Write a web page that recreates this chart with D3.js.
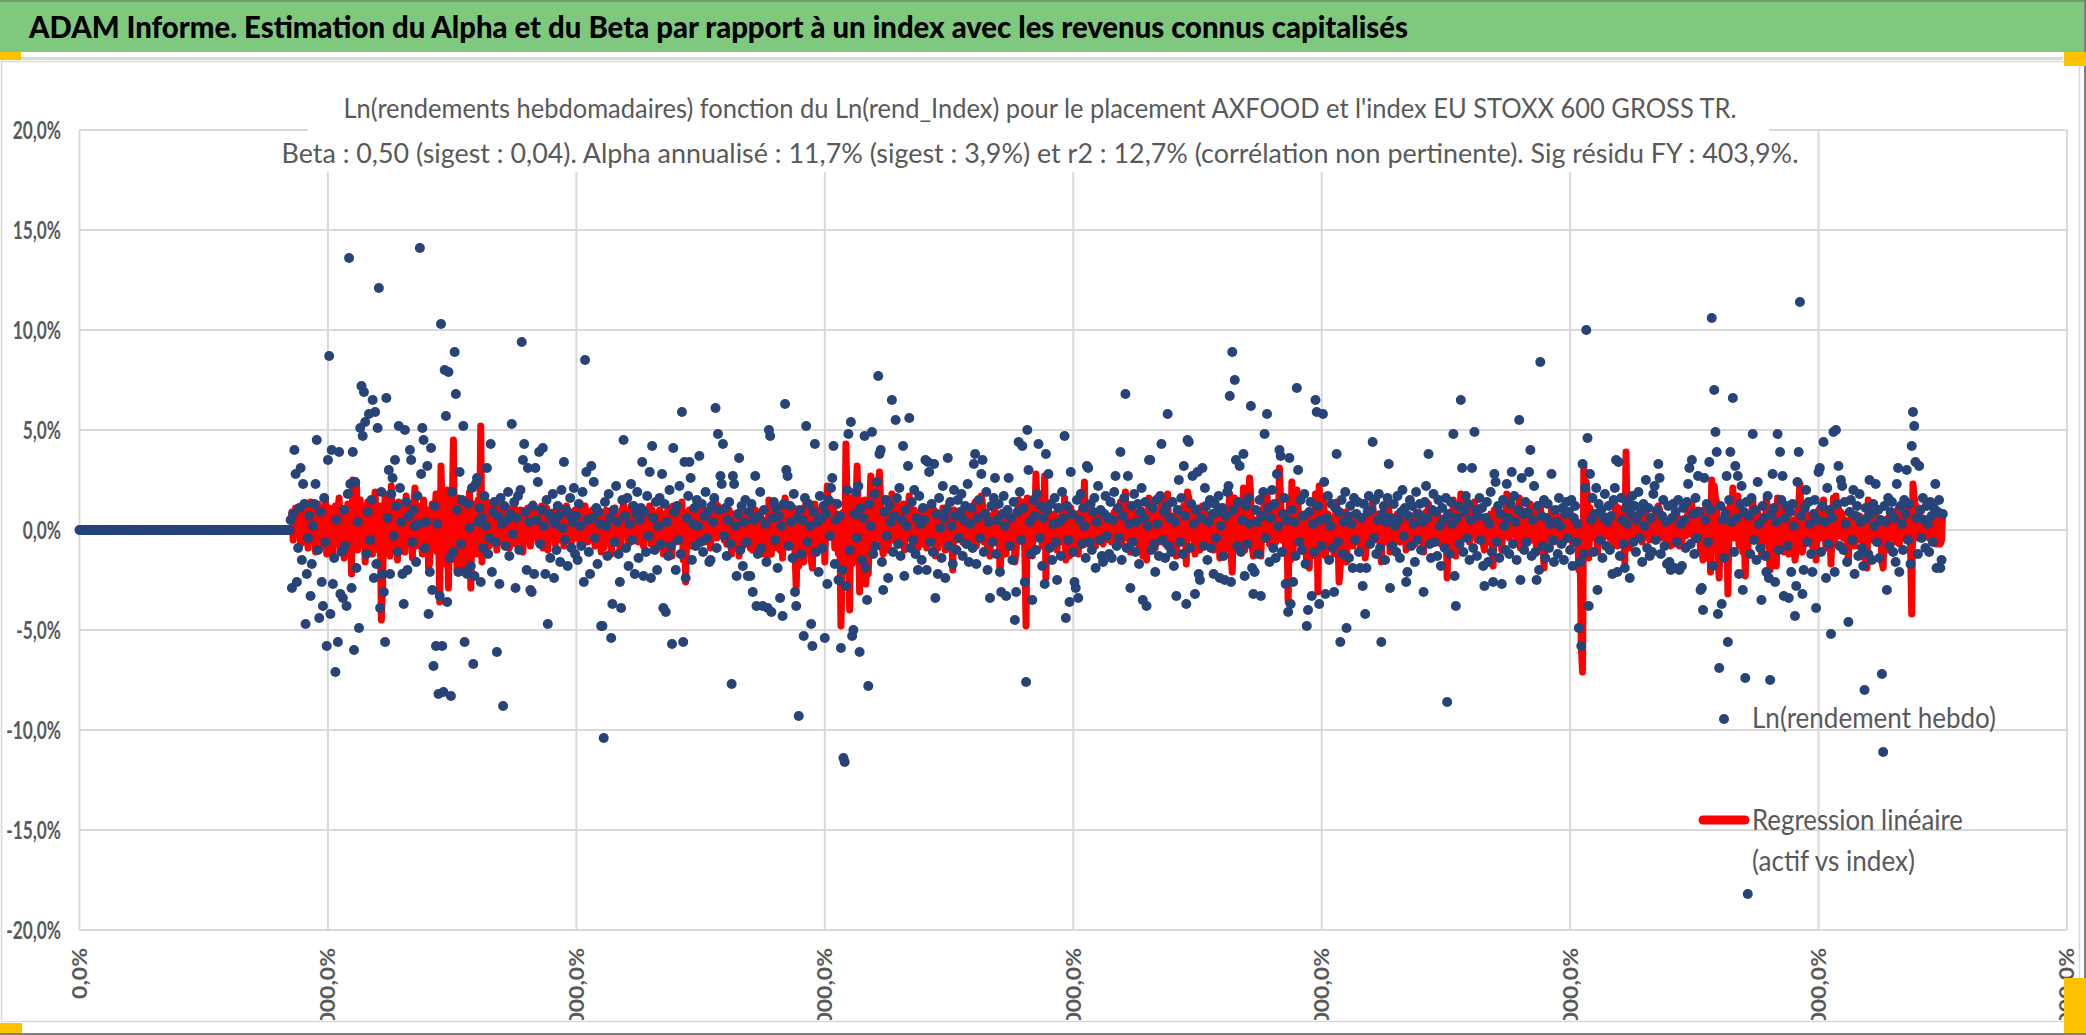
<!DOCTYPE html>
<html>
<head>
<meta charset="utf-8">
<script src="https://cdn.jsdelivr.net/npm/d3@7"></script>
<style>
  body { margin: 0; background: #fff; }
  svg { display: block; font-family: Lato, "Open Sans", sans-serif; }
</style>
</head>
<body>
<div id="chart"></div>
<script>
// ---------------------------------------------
// Texts and axes
// ---------------------------------------------
const titleText = "ADAM Informe. Estimation du Alpha et du Beta par rapport à un index avec les revenus connus capitalisés";
const subtitleLines = [
    "Ln(rendements hebdomadaires) fonction du Ln(rend_Index) pour le placement AXFOOD et l'index EU STOXX 600 GROSS TR.",
    "Beta : 0,50 (sigest : 0,04). Alpha annualisé : 11,7% (sigest : 3,9%) et r2 : 12,7% (corrélation non pertinente). Sig résidu FY : 403,9%."
];
const legendLabels = ["Ln(rendement hebdo)", "Regression linéaire", "(actif vs index)"];
const yTicks = [-20, -15, -10, -5, 0, 5, 10, 15, 20];
const xTicks = [0, 200, 400, 600, 800, 1000, 1200, 1400, 1600];

// ---------------------------------------------
// Data: weekly values in %, x = week number
// ---------------------------------------------
// weeks 0-169 : no return available (plotted as 0)
const zeroWeeks = [
    0,0,0,0,0,0,0,0,0,0,0,0,0,0,0,0,0,
    0,0,0,0,0,0,0,0,0,0,0,0,0,0,0,0,0,
    0,0,0,0,0,0,0,0,0,0,0,0,0,0,0,0,0,
    0,0,0,0,0,0,0,0,0,0,0,0,0,0,0,0,0,
    0,0,0,0,0,0,0,0,0,0,0,0,0,0,0,0,0,
    0,0,0,0,0,0,0,0,0,0,0,0,0,0,0,0,0,
    0,0,0,0,0,0,0,0,0,0,0,0,0,0,0,0,0,
    0,0,0,0,0,0,0,0,0,0,0,0,0,0,0,0,0,
    0,0,0,0,0,0,0,0,0,0,0,0,0,0,0,0,0,
    0,0,0,0,0,0,0,0,0,0,0,0,0,0,0,0,0
];
const firstWeek = 170;

// Ln(rendement hebdo), weeks 170-399
const hebdoA = [
    0.5, -2.9, 0.8, 4.0, 2.8, -2.6, -0.9, 1.1, 3.1, -1.5,
    2.3, 1.3, -4.7, -2.2, -0.4, 0.7, -3.3, -1.7, 0.2, 1.3,
    2.3, 4.5, -1.0, -4.4, 0.9, -2.6, -3.8, 1.6, -0.6, -5.8,
    3.5, 8.7, -4.2, 4.0, -2.7, -1.4, -7.1, 0.5, -5.6, 3.9,
    -3.2, -1.1, -3.4, 1.0, -0.8, -3.8, 1.8, 13.6, 2.3, -2.9,
    3.9, -6.0, 2.4, -1.9, 0.4, -4.9, 5.1, 7.2, 4.7, 6.9,
    5.4, -1.2, 0.9, 5.8, -0.5, 1.5, 6.5, -2.4, 5.9, -1.7,
    5.1, 12.1, -3.9, 1.9, -2.2, -3.1, -5.6, 6.6, 0.6, 3.0,
    -2.2, 1.8, 2.6, -0.3, 3.5, 1.2, -1.1, 5.2, 2.1, 0.4,
    -2.2, -3.7, 5.0, 1.4, -2.0, 0.7, 4.0, 3.5, -0.6, 1.0,
    0.2, -1.6, 1.7, 0.3, 14.1, 2.8, 5.1, 4.5, -0.9, 0.4,
    3.2, -4.2, -2.1, 4.1, -3.0, -6.8, 1.2, -5.8, 0.3, -8.2,
    -3.3, 10.3, -5.8, -8.1, 8.0, 5.7, -3.6, 7.9, -1.4, -8.3,
    1.9, -1.1, 8.9, 6.8, 1.0, -2.1, 2.9, -0.7, 1.5, 5.2,
    -5.6, -2.1, -2.2, 1.3, 0.1, -1.8, 2.1, -6.7, -2.3, 2.3,
    2.6, 0.4, 1.1, -2.6, 0.6, -0.9, 1.7, 0.2, 3.1, -1.2,
    -0.4, 4.3, -2.1, 0.9, 1.4, -0.6, -6.1, 0.7, -2.7, 1.6,
    0.3, -8.8, 1.2, -0.8, 0.5, 1.9, -1.3, 0.8, 5.3, -0.2,
    1.4, -2.9, 0.6, 1.7, -1.0, 2.0, 9.4, 3.5, 4.3, 0.9,
    -2.0, 3.1, 0.4, -3.0, -3.1, 1.2, -2.2, 3.1, 0.5, 2.4,
    3.9, -0.7, 1.0, 4.1, 0.2, -2.2, 1.5, -4.7, 0.8, -1.4,
    0.6, 1.8, -2.4, 0.3, -1.0, 1.2, 0.7, -1.6, 2.0, 0.1,
    3.4, -0.5, 1.0, -1.8, 0.8, 1.6, -0.9, 0.4, 2.1, -1.2
];
// weeks 400-599
const hebdoB = [
    0.7, -1.5, 1.3, 0.2, -0.8, 1.9, -2.6, 8.5, 2.9, 0.5,
    -1.1, -2.2, 3.2, 0.6, 2.4, -0.4, 1.1, -1.7, 0.9, 0.3,
    -4.8, -4.8, -10.4, 1.4, 0.2, -1.3, 1.8, 0.6, -5.4, -3.7,
    1.0, -0.6, 2.2, 0.4, -1.2, -2.6, -3.9, 1.5, 4.5, 0.7,
    -0.9, 1.6, -1.8, 0.3, 2.3, -0.5, 1.2, -2.2, 0.8, 1.9,
    -1.4, 0.5, 1.1, 3.4, -2.3, 0.9, -1.1, 1.7, -0.3, 2.9,
    -2.4, 4.2, 0.6, -1.0, 1.4, -2.0, 0.2, 1.6, -0.7, 2.8,
    -3.9, 1.3, -4.1, 0.4, -1.3, 2.0, -0.8, -5.7, 4.1, 0.9,
    -2.0, 1.2, -0.5, 2.2, -1.2, 5.9, -5.6, 3.4, -2.4, 0.6,
    1.7, 3.4, 2.6, -1.5, 0.3, 1.1, -0.8, 1.5, 0.2, 3.7,
    -0.6, 1.3, -1.1, 0.7, 1.9, -0.4, 0.9, -1.6, -1.5, 1.2,
    0.4, 1.6, 6.1, -0.9, 4.8, 1.0, 2.7, 2.3, 4.3, -0.3,
    1.1, -1.3, 0.5, 1.4, -0.7, -7.7, 2.7, 2.3, 0.2, -2.3,
    0.8, 3.6, -1.0, 1.2, -1.8, 0.4, 1.5, -0.6, -2.3, 0.9,
    -2.3, 1.3, -3.1, 0.5, 2.7, -3.8, -1.2, 0.7, 1.9, -0.9,
    -3.8, 1.0, 0.3, -1.6, -3.9, 5.0, 4.7, -4.1, 0.6, 1.4,
    -0.5, 1.1, -1.9, 0.7, -3.4, 0.2, -4.3, 1.3, 6.3, 3.0,
    2.7, -0.8, 1.2, 0.4, -1.4, 1.8, -3.1, -3.8, 0.6, -9.3,
    1.0, -1.2, 0.5, -5.3, 1.6, 5.2, -0.6, 1.3, 0.2, -4.7,
    -5.8, 0.9, 4.3, -1.1, 0.4, -2.1, 1.7, 0.6, -0.9, 1.2
];
// weeks 600-799
const hebdoC = [
    -5.4, 0.8, -2.7, 1.5, -0.3, 2.1, 2.6, 4.2, -1.7, 0.5,
    1.3, -2.5, 0.7, -5.9, -2.0, -11.4, -11.6, -2.8, 2.0, 4.8,
    -1.0, 5.4, -5.3, -5.0, 0.8, 1.9, -0.4, 2.2, -6.1, 1.1,
    -1.5, 0.6, 4.7, -1.9, -3.5, -7.8, 1.3, 0.2, 4.9, -1.2,
    1.8, -0.8, 2.4, 7.7, 3.8, 4.0, -1.6, -3.0, 0.9, 1.5,
    -0.3, -2.4, 1.2, 0.4, 6.5, -1.1, 0.7, 5.5, 1.6, -0.7,
    2.1, -1.3, 0.5, 4.2, -2.3, 1.0, 0.2, 3.2, 5.6, -0.9,
    1.4, -0.5, 2.0, -1.2, 0.6, -2.0, 1.7, 0.3, -1.5, 1.1,
    0.5, 3.5, -2.0, 3.4, 2.9, -0.6, 1.3, -1.1, 3.3, -3.4,
    0.8, -2.2, 1.6, 0.1, -1.4, 2.2, 0.6, -2.4, 1.0, 3.6,
    -0.8, 1.4, 0.2, -1.7, 2.0, 0.7, -1.0, 1.5, -0.4, 0.9,
    1.8, -1.3, 0.5, 1.2, -0.7, 2.3, -1.6, 0.3, 1.1, -0.9,
    3.3, 3.8, -1.7, 0.6, 1.5, -0.4, 2.8, 3.5, -1.1, 0.8,
    1.9, -2.0, 0.4, -3.4, 1.2, -0.6, 1.6, 2.6, -1.2, 0.5,
    1.3, -2.1, -3.1, 0.8, 1.7, 0.2, -3.3, 1.0, 2.6, -0.8,
    0.6, -1.5, 1.4, -4.5, -3.1, 0.9, 4.4, 1.9, -0.5, 4.2,
    1.1, -2.6, -7.6, 5.0, 3.0, 0.4, -1.2, -3.5, 1.5, 0.7,
    -1.0, 1.8, 4.3, -0.4, 1.2, -1.8, 0.6, -2.7, 3.8, 1.0,
    2.8, -0.9, 1.3, -1.5, 0.3, 1.6, -0.6, -2.5, 1.1, 0.4,
    -1.3, 1.9, 0.6, 4.7, -4.4, 1.2, -0.5, -3.6, 2.9, 0.8
];
// weeks 800-999
const hebdoD = [
    -1.1, -2.6, -2.9, 1.5, -3.4, 0.5, 1.8, -0.7, 1.1, 0.2,
    -1.4, 3.2, 3.1, -0.6, 1.3, -1.0, 0.9, 1.6, -1.9, 0.4,
    2.2, -0.5, 1.0, -1.3, -1.6, 0.8, 1.7, -0.3, 0.6, -1.2,
    1.4, -1.4, 0.5, 1.9, 2.7, -0.8, 1.1, -0.4, 3.9, -1.5,
    0.7, 1.6, 6.8, -0.9, 2.7, 0.3, -2.9, 1.2, -0.6, 1.8,
    -1.1, 0.4, 1.3, -1.7, 0.9, 2.1, -3.5, 0.6, 1.4, -3.8,
    0.2, 3.5, 3.5, -1.0, 1.1, -0.7, -2.1, 1.5, 0.3, -1.3,
    1.7, 4.3, -0.5, 0.9, -1.4, 1.2, 5.8, -0.8, 0.6, -1.1,
    1.4, -1.8, 0.4, -3.3, 1.0, 2.5, -0.6, 1.6, -1.2, 3.2,
    0.7, -3.7, 4.5, 4.4, -0.9, 1.3, 2.7, 0.3, -3.2, 1.0,
    2.9, -2.2, -2.5, 0.6, 3.1, -0.8, 2.1, 1.2, -1.5, 0.4,
    1.5, -0.9, 0.8, -2.2, 1.3, -0.4, 0.9, 1.7, -2.4, 0.2,
    1.1, -1.3, -2.5, 0.7, 1.9, 2.2, 6.7, -2.6, 8.9, 1.0,
    7.5, 3.5, -0.8, 1.4, 3.2, -1.1, 0.5, 3.8, -2.3, 1.2,
    -0.7, 1.6, 0.3, 6.2, -1.9, -3.2, -2.1, 1.0, 0.4, -1.2,
    1.5, -3.3, 0.7, 1.9, 4.8, -0.4, 5.8, 1.1, -1.6, 0.6,
    2.0, -0.9, 1.3, -1.4, 2.8, 0.2, 4.0, 3.7, -1.1, 0.8,
    1.6, -2.7, 0.5, -4.1, 3.6, -3.7, 1.0, -2.6, 0.4, -1.3,
    7.1, 3.0, -0.6, 1.5, -1.0, 0.7, 1.8, -1.7, -4.8, -4.0,
    0.9, 1.4, -3.3, 0.3, -1.1, 6.5, 5.9, 1.2, -3.7, 0.5
];
// weeks 1000-1199
const hebdoE = [
    -0.8, 5.8, 2.4, -3.2, 0.6, 1.7, -1.5, 0.2, 1.3, -0.9,
    -3.1, 1.1, 3.8, -0.6, 0.9, -5.6, 1.5, -1.2, 0.4, 1.9,
    -4.9, 0.7, -1.4, 1.2, 0.3, -1.9, 1.6, -0.5, 0.8, 1.4,
    -1.1, -1.9, 0.6, -2.8, 1.3, -4.2, -1.9, 0.9, 1.7, -0.7,
    1.0, 4.4, -0.4, 1.5, -1.2, 0.5, 1.8, -0.9, -5.6, 0.8,
    1.2, -1.5, 0.4, 1.6, 3.3, -2.9, 0.6, -0.8, 1.3, 0.2,
    -1.1, 1.7, 0.5, -1.4, 0.9, 2.0, -0.3, 1.1, -2.6, -2.1,
    0.7, 1.5, -0.8, 1.2, 0.3, -1.6, 1.9, -0.5, 0.8, 1.3,
    -1.0, 0.4, -3.1, 1.4, 2.2, 0.6, 3.8, -0.7, -1.4, 1.0,
    1.8, -0.6, 0.9, -1.3, 1.5, 0.2, -1.8, 1.1, 0.5, -0.9,
    1.6, -8.6, 0.8, -1.2, 1.4, 0.3, 4.8, -2.3, -3.8, 0.6,
    1.2, -0.7, 6.5, 3.1, -1.1, 0.9, 1.7, -0.4, 1.3, -1.5,
    0.5, 3.1, -0.9, 4.9, 1.0, -1.3, 0.7, 1.6, -0.5, 1.1,
    -1.8, -2.8, 0.6, 1.4, -1.6, 0.3, 1.9, -1.1, -2.6, 2.8,
    2.4, -0.6, 1.2, -1.4, 0.8, -2.7, 1.5, 0.2, -1.0, 2.3,
    0.6, -1.2, 1.3, 2.9, -0.7, 1.7, 0.4, -1.5, 1.0, 5.5,
    -2.5, 2.6, 0.8, -1.0, 1.4, -0.6, 0.9, 2.9, 4.0, -1.3,
    0.5, 2.2, -1.1, -2.5, 1.2, -2.0, 8.4, 0.7, -0.8, 1.5,
    -1.4, 0.6, 1.3, -0.9, 0.3, 2.8, -0.5, -1.6, 1.0, 0.4,
    -1.2, 1.6, 0.2, -0.7, 1.1, -1.5, 0.8, 1.4, -0.4, 0.9
];
// weeks 1200-1399
const hebdoF = [
    -1.0, 1.5, -1.8, 0.6, 1.2, -0.6, 0.3, -4.9, -1.6, -5.8,
    3.3, -1.2, 2.1, 10.0, 4.6, -3.8, 2.8, 0.5, 1.6, -1.1,
    0.8, 2.1, -3.0, 1.3, -0.5, 1.0, -1.4, 0.6, 1.8, -0.8,
    0.4, 1.2, -1.0, 0.7, -2.2, 1.5, 2.1, 3.5, -2.1, 3.4,
    -1.3, 1.6, 0.5, -0.7, -1.9, 1.1, 0.3, 1.4, -2.4, 0.8,
    1.7, -0.6, 1.2, -1.1, 0.5, 1.9, -0.4, 0.9, -1.6, 1.3,
    0.2, 2.5, -0.9, 1.1, -1.3, 0.6, -1.1, 1.8, 2.2, -0.5,
    1.0, 3.3, 2.6, -1.2, 0.7, 1.5, -0.8, 0.4, -1.7, 1.2,
    -1.6, -2.0, 0.6, 1.3, -1.9, 0.9, -0.6, 1.5, -2.0, 0.3,
    -1.8, 1.1, 0.5, -0.9, 1.4, 2.3, 3.1, -0.7, 3.5, 0.8,
    -1.2, 1.6, -0.4, 2.7, 0.9, -3.0, -2.9, -4.0, 2.6, 0.5,
    1.3, -0.6, 3.4, 1.0, 10.6, -1.8, 7.0, 4.9, 3.9, -4.2,
    -6.9, 1.2, -3.7, 0.5, -1.4, 0.8, 2.7, -5.6, 1.5, 3.9,
    0.4, 6.6, -1.1, 3.2, 0.6, 2.7, -2.2, 1.3, 2.2, -3.0,
    0.9, -7.4, 1.4, -18.2, 0.7, -1.2, 1.6, 4.8, -0.5, 1.0,
    -1.5, 2.4, 0.3, -0.9, -3.5, 1.2, 0.6, -1.3, -2.1, 1.7,
    -2.4, -7.5, 0.8, 2.8, 1.1, -2.6, 0.4, 4.8, -1.0, 3.9,
    1.5, 2.7, -3.3, 0.6, 1.2, -0.8, -3.4, 0.9, -2.1, 1.3,
    0.2, -4.3, -2.8, 2.4, 3.9, 11.4, 0.7, -3.2, -2.0, 1.1,
    2.0, -0.6, 1.4, 0.3, -1.2, -2.1, 0.8, 1.5, -3.9, 0.5
];
// weeks 1400-1500
const hebdoG = [
    2.9, 3.1, -1.1, 1.2, 4.4, 0.4, -2.4, 2.1, -0.7, 1.0,
    -5.2, 0.6, 4.9, -2.1, 5.0, 1.3, 3.2, -0.8, 2.5, 2.2,
    -1.0, 1.4, 0.3, -1.6, -4.6, 0.9, 1.5, -0.5, 2.0, -2.2,
    0.7, 1.2, -1.3, 1.8, 0.4, -0.9, -1.8, -8.0, 1.1, 0.6,
    -1.2, 2.5, 0.8, -1.5, 1.3, 0.2, 2.3, -0.6, 1.0, -1.4,
    0.5, -7.2, -11.1, 1.2, 0.4, -3.0, 1.6, -0.8, 0.9, 1.4,
    -1.1, 0.6, -1.6, 2.3, 3.1, -2.1, 1.2, 0.3, -1.0, 1.5,
    0.8, 3.0, -0.5, 1.3, -1.7, 4.2, 5.9, 5.2, 3.4, 0.6,
    -1.2, 3.2, 1.0, -0.4, 1.6, 0.5, -0.9, 1.2, 0.3, -1.1,
    1.4, 0.7, -0.6, 1.1, 2.3, -1.9, 0.9, 1.5, -1.9, -1.5,
    0.8
];

// Regression linéaire (actif vs index), weeks 170-399
const regrA = [
    0.3, 0.9, -0.5, 0.6, 1.1, -0.2, 0.4, 1.0, -0.7, 0.8,
    0.2, -0.6, 1.2, 0.5, -0.9, 0.7, 1.4, -0.3, 0.1, 0.9,
    -1.1, 0.6, 1.3, -0.4, 0.2, 1.0, -0.8, 0.5, 1.5, -1.2,
    0.4, 1.1, -0.6, 0.8, -1.3, 0.3, 1.2, -0.5, 0.9, 1.6,
    -0.9, 0.2, 1.0, -1.4, 0.7, 0.1, 1.3, -0.2, 0.6, -2.2,
    2.5, 0.4, -0.7, 2.3, -1.0, 0.8, 1.5, -0.4, 0.3, 1.1,
    -1.6, 0.5, 1.4, -0.8, 0.9, 0.2, -1.2, 1.0, 1.9, -0.6,
    0.6, -1.0, 1.2, -4.5, -2.8, 0.7, 1.6, -0.9, 0.4, 1.8,
    -1.3, 2.2, 0.3, -0.5, 1.1, 0.8, -1.5, 1.4, 0.2, -0.7,
    1.0, 0.5, -1.1, 1.7, 0.1, -0.6, 1.3, 0.7, -1.4, 0.9,
    2.1, -0.8, 0.6, 1.2, -0.3, 0.9, -1.2, 1.5, 0.4, -0.5,
    1.0, -1.9, -1.6, 0.7, 1.3, -0.9, 0.5, 1.8, -1.1, 0.3,
    -3.6, 3.2, 0.8, -1.7, 1.4, -0.4, 2.0, -2.9, 1.1, -1.5,
    0.6, 4.5, -1.3, 0.9, -2.1, 1.6, 0.2, -1.0, 1.3, -1.8,
    0.7, 1.2, -1.4, 0.4, 1.9, -2.9, 0.8, -0.6, 1.3, 0.1,
    -1.2, 1.5, -0.9, 5.2, -1.6, 0.9, 0.3, -1.1, 1.4, 0.5,
    -0.8, 1.1, 0.2, -0.5, 1.3, 0.6, -1.0, 0.9, 0.1, 1.2,
    -0.6, 0.7, 1.0, -0.3, 0.4, 1.1, -0.9, 0.5, 0.8, -0.2,
    1.2, -0.7, 0.3, 0.9, -0.4, 1.0, 0.6, -1.1, 0.8, 0.2,
    -0.5, 1.1, 0.4, -0.8, 0.9, 1.3, -0.3, 0.5, 1.0, -0.6,
    0.7, 0.2, 1.2, -0.9, 0.6, -0.4, 1.1, -1.0, 0.8, 0.3,
    -0.2, 0.9, 0.5, -0.7, 1.0, 0.1, 0.6, -0.5, 1.1, 0.4,
    -0.8, 0.7, 1.2, -0.1, 0.4, 0.9, -0.6, 0.8, 0.2, 1.0
];
// weeks 400-599
const regrB = [
    -0.4, 0.6, 1.1, -0.7, 0.3, 0.8, -0.3, 1.2, 0.5, -0.6,
    0.9, 0.2, -0.5, 1.0, 0.6, -0.8, 0.4, 1.1, -0.2, 0.7,
    -1.1, 0.3, -0.9, 0.8, 1.0, -0.4, 0.5, 0.9, -1.2, -0.3,
    0.6, 1.1, -0.2, 0.7, 0.3, -0.9, -0.6, 1.0, 1.3, -0.1,
    0.5, 0.8, -0.7, 0.2, 1.2, -0.3, 0.6, -0.5, 0.9, 0.4,
    -0.6, 0.8, 0.1, 1.1, -0.8, 0.5, 0.3, 0.9, -0.4, 1.2,
    -0.7, 1.0, 0.2, -0.3, 0.7, -0.9, 0.6, 1.0, -0.2, 0.8,
    -1.2, 0.5, -1.0, 0.9, 0.2, 1.1, -0.5, -1.3, 1.2, 0.4,
    -0.6, 0.8, 0.3, 1.0, -0.4, 1.4, -1.5, 0.9, -2.6, 0.5,
    0.7, 1.0, -0.8, 0.3, 0.6, -0.5, 1.2, 0.1, 0.8, 1.1,
    -0.3, 0.7, 0.2, -0.6, 1.0, 0.4, -0.2, 0.9, -0.9, 0.5,
    0.3, 1.1, 1.4, -0.4, 1.2, 0.6, 0.9, 0.8, 1.0, -0.5,
    0.6, -0.7, 0.2, 1.0, -0.3, -1.2, 0.8, 0.7, 0.1, -0.9,
    0.4, -1.3, -0.5, 0.8, -0.8, 0.3, 0.9, -0.4, -0.7, 0.5,
    -0.9, 0.6, -1.0, 0.2, 1.0, -1.1, -0.6, 0.4, 0.9, -0.2,
    -1.2, 0.5, 0.1, -0.7, -1.3, 1.5, 1.1, -1.2, 0.3, 0.8,
    -0.2, 0.7, -0.9, 0.4, -1.0, 0.2, -1.4, 0.9, 1.6, 1.0,
    0.9, -0.5, 0.6, 0.3, -0.8, 1.1, -1.2, -2.9, 0.4, -1.8,
    0.6, -0.7, 0.3, -1.6, 1.0, 1.5, -0.4, 0.8, 0.1, -1.5,
    -1.9, 0.5, 1.3, -0.6, 0.2, -0.9, 1.0, 0.4, -0.5, 0.8
];
// weeks 600-799
const regrC = [
    -1.6, 0.6, 2.2, 0.9, -0.2, 1.1, 0.7, 1.4, -0.9, 0.3,
    0.8, -1.2, 0.5, -4.8, -2.0, 0.9, -1.9, 4.3, 1.0, 1.5,
    -4.0, 1.6, -1.7, -1.5, 0.5, 1.0, 3.2, 0.8, -3.1, 0.6,
    -0.8, 0.3, 1.5, -2.7, -1.4, -2.2, 0.7, 2.7, 1.4, -0.6,
    1.0, -0.4, 0.9, 1.9, 2.9, 1.3, -0.8, -1.2, 0.5, 0.8,
    -0.2, -1.0, 0.7, 0.3, 1.8, -0.5, 0.4, 1.6, 0.9, -0.3,
    1.1, -0.6, 0.3, 1.3, -1.0, 0.6, 0.2, 1.0, 1.7, -0.4,
    0.8, -0.2, 1.0, -0.6, 0.4, -0.9, 0.9, 0.2, -0.7, 0.6,
    0.3, 1.1, -0.9, 1.0, 0.9, -0.3, 0.7, -0.5, 1.0, -1.3,
    0.5, -0.9, 0.8, 0.1, -0.6, 1.1, 0.3, -1.0, 0.6, 1.2,
    -0.4, 0.7, 0.2, -2.0, 1.0, 0.4, -0.5, 0.8, -0.2, 0.5,
    0.9, -0.6, 0.3, 0.7, -0.4, 1.1, -0.7, 0.2, 0.6, -0.5,
    1.2, 1.4, -0.8, 0.4, 0.8, -0.2, 1.7, 1.3, -0.6, 0.5,
    0.9, -0.9, 0.2, -1.3, 0.7, -0.3, 0.8, 1.0, -0.6, 0.3,
    0.7, -2.1, -1.1, 0.5, 0.9, 0.1, -1.2, 0.6, 1.0, -0.4,
    0.4, -0.7, 0.7, -1.6, -1.1, 0.5, 1.5, 0.9, -0.3, 1.4,
    0.6, -1.0, -4.8, 1.6, 1.1, 0.2, -0.6, -1.3, 0.8, 0.4,
    2.8, 0.9, 1.5, -0.2, 0.6, -0.8, 0.3, 2.7, -2.4, 0.5,
    1.1, -0.5, 0.7, -0.7, 0.2, 0.8, -0.3, -1.0, 0.6, 0.2,
    -0.6, 0.9, 0.3, 1.6, -1.5, 0.7, -0.2, -1.3, 1.1, 0.4
];
// weeks 800-999
const regrD = [
    -0.5, -1.0, -1.1, 0.8, -1.2, 0.3, 0.9, -0.3, 0.6, 2.4,
    -0.7, 1.2, 1.1, -0.3, 0.7, -0.5, 0.5, 0.8, -0.8, 0.2,
    0.9, -0.2, 0.5, -0.6, -0.7, 0.4, 0.8, -0.1, 0.3, -0.5,
    0.7, -0.6, 0.3, 0.9, 1.0, -0.4, 0.6, -0.2, 1.4, -0.7,
    0.4, 0.8, 1.9, -0.4, 1.0, 0.2, -1.1, 0.6, -0.3, 0.9,
    -0.5, 0.2, 0.7, -0.8, 0.5, 1.0, -1.3, 0.3, 0.7, -1.5,
    0.1, 1.6, 1.3, -0.5, 0.6, -0.3, -0.9, 0.8, 0.2, -0.6,
    0.9, 1.5, -0.2, 0.5, -0.7, 0.6, 1.8, -0.4, 0.3, -0.5,
    0.7, -0.8, 0.2, -1.3, 0.5, 1.0, -0.3, 0.8, -0.6, 1.2,
    0.4, -1.7, 1.9, 1.6, -0.4, 0.6, 1.0, 0.1, -1.2, 0.5,
    1.1, -0.9, -1.0, 0.3, 1.2, -0.4, 0.9, 0.6, -0.7, 0.2,
    0.7, -0.5, 0.4, -1.0, 0.6, -0.2, 0.5, 0.8, -1.4, 0.1,
    0.5, -0.6, -1.0, 0.4, 0.9, 1.0, 1.8, -1.1, -2.1, 0.5,
    1.6, 1.3, -0.4, 0.7, 1.2, -0.5, 0.3, 2.1, -1.0, 0.6,
    -0.3, 0.8, 2.6, 1.5, -0.8, -1.3, -0.9, 0.5, 0.2, -0.5,
    0.7, -1.3, 0.4, 0.9, 1.7, -0.2, 1.8, 0.5, -0.7, 0.3,
    0.9, -0.4, 0.6, -0.6, 1.1, 0.1, 3.1, 1.4, -0.5, 0.4,
    0.8, -1.2, 0.3, -3.6, 1.3, -1.5, 2.4, -1.1, 0.2, -0.6,
    2.0, 1.2, -0.3, 0.7, -0.5, 0.4, 0.8, -0.8, -1.6, -1.5,
    -1.9, 0.6, -1.3, 0.2, -0.5, 1.8, 1.6, -3.1, 2.2, 0.3
];
// weeks 1000-1199
const regrE = [
    -0.4, 1.7, 1.0, -1.3, 0.3, 0.8, -0.7, 0.1, 0.6, -0.4,
    -1.2, 0.5, 1.4, -0.3, -2.6, -1.8, 0.7, -0.5, 0.2, 0.9,
    -1.6, 0.4, -0.6, 0.6, 0.2, -0.8, 0.8, -0.2, 0.4, 0.7,
    -0.5, -0.8, 0.3, -1.1, 0.6, -1.4, -0.8, 0.5, 0.8, -0.3,
    0.5, 1.5, -0.2, 0.7, -0.5, 0.3, 0.8, -0.4, -1.6, 0.4,
    0.6, -0.6, 0.2, 0.7, 1.2, -1.1, 0.3, -0.3, 0.6, 0.1,
    -0.5, 0.8, 0.2, -0.6, 0.5, 0.9, -0.1, 0.5, -1.0, -0.8,
    0.4, 0.7, -0.3, 0.6, 0.2, -0.7, 0.9, -0.2, 0.4, 0.6,
    -0.4, 0.2, -1.1, 0.6, 0.9, 0.3, 1.3, -0.3, -0.6, 0.5,
    0.8, -0.2, 0.4, -0.5, 0.7, 0.1, -0.7, 0.5, 0.3, -0.3,
    0.7, -2.4, 0.4, -0.5, 0.6, 0.2, 1.5, -0.9, -1.3, 0.3,
    0.6, -0.3, 1.8, 1.1, -0.4, 0.4, 0.8, -0.1, 0.6, -0.6,
    0.3, 1.1, -0.3, 1.4, 0.5, -0.5, 0.3, 0.7, -0.2, 0.5,
    -0.7, -1.0, 0.3, 0.6, -0.6, 0.1, 0.8, -0.4, -1.8, 1.0,
    0.9, -0.2, 0.5, -0.5, 0.4, -1.0, 0.7, 0.1, -0.3, 1.8,
    0.3, -0.4, 0.6, 1.0, -0.2, 0.7, 0.2, -0.6, 0.5, 1.6,
    -0.9, 1.0, 0.4, -0.3, 0.6, -0.2, 0.4, 1.0, 1.3, -0.5,
    0.2, 0.9, -0.4, -0.9, 0.5, -0.7, 1.3, 0.3, -0.3, -1.9,
    -0.5, 0.3, 0.6, -0.3, 0.2, 1.0, -0.2, -0.6, 0.5, 0.2,
    -0.4, 0.7, 0.1, -0.2, 0.5, -0.6, 0.4, 0.6, -0.1, 0.4
];
// weeks 1200-1399
const regrF = [
    -0.3, 0.6, -0.7, 0.3, 0.5, -0.2, 0.1, -2.0, -0.5, -5.8,
    -7.1, 3.2, 0.9, 2.4, 1.6, -1.4, 1.1, 0.2, 0.7, -0.4,
    0.4, 0.8, -1.1, 0.6, -0.2, 0.5, -0.5, 0.3, 0.7, -0.3,
    0.2, 0.5, -0.4, 0.3, -0.8, 0.6, 0.8, 1.2, -0.8, 1.1,
    -0.5, 0.7, 0.2, -0.3, -1.6, 3.9, 0.2, 0.6, -0.9, 0.3,
    0.7, -0.2, 0.5, -0.4, 0.2, 0.8, -0.1, 0.4, -0.6, 0.5,
    0.1, 0.9, -0.3, 0.5, -0.5, 0.3, -0.4, 0.7, 0.8, -0.2,
    0.4, 1.2, 1.0, -0.4, 0.3, 0.6, -0.3, 0.2, -0.7, 0.5,
    -0.6, -0.8, 0.3, 0.5, -0.7, 0.4, -0.2, 0.6, -0.8, 0.2,
    -0.7, 0.5, 0.2, -0.3, 0.6, 0.9, 1.2, -0.2, 1.3, 0.3,
    -0.5, 0.7, -0.1, 1.0, 0.4, -1.1, -1.0, -1.5, 1.0, -1.4,
    0.5, -0.2, 1.3, -2.1, 2.5, -0.6, 2.2, 1.6, 1.4, -1.5,
    -2.4, 0.5, -1.3, 0.2, -0.5, 0.3, 1.0, -3.2, 0.6, 1.4,
    0.2, 2.1, -0.4, 1.2, 0.3, 1.7, -0.8, 0.5, 0.8, -1.1,
    0.4, -2.3, 0.6, -1.2, 0.3, -0.4, 0.6, 1.6, -0.2, 0.4,
    -0.5, 0.9, 0.1, -0.3, -1.2, 0.5, 0.2, -0.5, 1.7, 0.6,
    -0.9, -2.0, 0.3, 1.0, 0.4, -0.9, -1.8, 1.6, -0.4, 1.3,
    0.6, 1.0, -1.1, 0.2, 0.5, -0.3, -1.2, 0.3, -0.7, 0.5,
    0.1, -1.5, -1.0, 0.9, 1.3, 2.3, 0.3, -1.1, -0.7, 0.4,
    0.8, -0.2, 0.5, 0.1, -0.4, -0.8, 0.3, 0.6, -1.5, 0.2
];
// weeks 1400-1500
const regrG = [
    1.0, 1.1, -0.4, 0.5, 1.5, 0.2, -0.9, 0.8, -0.2, 0.4,
    -1.7, 0.2, 1.6, -0.7, 1.7, 0.5, 1.1, -0.3, 0.9, 0.8,
    -0.4, 0.5, 0.1, -0.6, -1.5, 0.3, 0.6, -0.2, 0.8, -0.8,
    0.3, 0.5, -0.5, 0.7, 0.2, -0.3, -0.6, -1.4, 0.4, -1.9,
    1.5, 0.9, 0.3, -0.5, 0.5, 0.1, 0.9, -0.2, 0.4, -0.5,
    0.2, -1.6, -1.9, 0.5, 0.2, -1.0, 0.6, -0.3, 0.4, 0.5,
    -0.4, 0.2, -0.6, 0.9, 1.1, -0.7, 0.5, 0.1, -0.4, 0.6,
    0.3, 1.0, -0.2, 0.5, -0.6, -4.2, 2.3, 1.6, 1.2, 0.2,
    -0.4, 1.1, 0.4, -0.1, 0.6, 0.2, -0.3, 0.5, 0.1, -0.4,
    0.5, 0.3, -0.2, 0.4, 0.9, -0.7, 0.4, 0.6, -0.7, -0.5,
    1.0
];

// ---------------------------------------------
// Build
// ---------------------------------------------
const hebdo = [].concat(hebdoA, hebdoB, hebdoC, hebdoD, hebdoE, hebdoF, hebdoG);
const regr = [].concat(regrA, regrB, regrC, regrD, regrE, regrF, regrG);

const dots = zeroWeeks.map((v, i) => ({ week: i, value: v }))
    .concat(hebdo.map((v, i) => ({ week: firstWeek + i, value: v })));
const regLine = regr.map((v, i) => ({ week: firstWeek + i, value: v }));

const width = 2086;
const height = 1035;

const fr = d3.formatLocale({
    decimal: ',', thousands: '\u00a0', grouping: [3],
    currency: ['', '\u00a0€'], minus: '-', percent: '%'
});
const pct = fr.format('.1%');

const x = d3.scaleLinear().domain([0, 1600]).range([79.5, 2067]);
const y = d3.scaleLinear().domain([-20, 20]).range([930, 130]);

const svg = d3.select('#chart')
    .append('svg')
    .attr('width', width)
    .attr('height', height)
    .attr('viewBox', `0 0 ${width} ${height}`);

svg.append('rect').attr('width', width).attr('height', height).attr('fill', '#ffffff');

// green title bar
svg.append('rect')
    .attr('x', 0).attr('y', 0)
    .attr('width', width).attr('height', 52)
    .attr('fill', '#7fc97f');
svg.append('line')
    .attr('x1', 0).attr('x2', width).attr('y1', 1).attr('y2', 1)
    .attr('stroke', '#6b9e6b').attr('stroke-width', 2);

svg.append('text')
    .attr('x', 29).attr('y', 38)
    .attr('font-size', 30).attr('font-weight', 900)
    .attr('fill', '#000')
    .attr('textLength', 1379).attr('lengthAdjust', 'spacingAndGlyphs')
    .text(titleText);

// separator under the bar
svg.append('rect')
    .attr('x', 0).attr('y', 57).attr('width', 2063).attr('height', 3)
    .attr('fill', '#d9d9d9');

// chart area border
svg.append('rect')
    .attr('x', 1.5).attr('y', 61.5).attr('width', 2078).attr('height', 960)
    .attr('fill', 'none').attr('stroke', '#d9d9d9').attr('stroke-width', 1.5);

// gridlines
const grid = svg.append('g').attr('class', 'grid');
grid.selectAll('line.h')
    .data(yTicks)
    .enter().append('line')
    .attr('class', 'h')
    .attr('x1', x(0)).attr('x2', x(1600))
    .attr('y1', d => y(d)).attr('y2', d => y(d))
    .attr('stroke', '#d9d9d9').attr('stroke-width', 2);
grid.selectAll('line.v')
    .data(xTicks)
    .enter().append('line')
    .attr('class', 'v')
    .attr('x1', d => x(d)).attr('x2', d => x(d))
    .attr('y1', y(20)).attr('y2', y(-20))
    .attr('stroke', '#d9d9d9').attr('stroke-width', 2);

// white box of the chart title (hides the top of the grid)
svg.append('rect')
    .attr('x', 308).attr('y', 63).attr('width', 1461).attr('height', 109)
    .attr('fill', '#ffffff');

svg.selectAll('text.subtitle')
    .data(subtitleLines)
    .enter().append('text')
    .attr('class', 'subtitle')
    .attr('x', 1040)
    .attr('y', (d, i) => 118 + i * 45)
    .attr('text-anchor', 'middle')
    .attr('font-size', 27)
    .attr('fill', '#595959')
    .attr('textLength', (d, i) => i === 0 ? 1393 : 1517)
    .attr('lengthAdjust', 'spacingAndGlyphs')
    .text(d => d);

// regression line (drawn under the dots)
const line = d3.line()
    .x(d => x(d.week))
    .y(d => y(d.value));

svg.append('path')
    .datum(regLine)
    .attr('d', line)
    .attr('fill', 'none')
    .attr('stroke', '#ff0000')
    .attr('stroke-width', 7)
    .attr('stroke-linejoin', 'round');

// weekly returns
svg.append('g')
    .selectAll('circle')
    .data(dots)
    .enter().append('circle')
    .attr('cx', d => x(d.week))
    .attr('cy', d => y(d.value))
    .attr('r', 5)
    .attr('fill', '#264478');

// y axis labels
svg.append('g')
    .selectAll('text')
    .data(yTicks)
    .enter().append('text')
    .attr('transform', d => `translate(61,${y(d)}) scale(0.72,1)`)
    .attr('dy', '0.36em')
    .attr('text-anchor', 'end')
    .attr('font-size', 24)
    .attr('font-weight', 700)
    .attr('fill', '#595959')
    .text(d => pct(d / 100));

// x axis labels (rotated, cut by the chart border)
svg.append('clipPath').attr('id', 'xlab-clip')
    .append('rect').attr('x', 0).attr('y', 0).attr('width', width).attr('height', 1020);

svg.append('g')
    .attr('clip-path', 'url(#xlab-clip)')
    .selectAll('text')
    .data(xTicks)
    .enter().append('text')
    .attr('transform', d => `translate(${x(d)},948) rotate(-90) scale(1,0.9)`)
    .attr('dy', '0.36em')
    .attr('text-anchor', 'end')
    .attr('font-size', 23)
    .attr('font-weight', 700)
    .attr('fill', '#595959')
    .text(d => pct(d));

// legend
const legend = svg.append('g').attr('class', 'legend');
legend.append('circle')
    .attr('cx', 1724).attr('cy', 719).attr('r', 5)
    .attr('fill', '#264478');
legend.append('line')
    .attr('x1', 1703).attr('x2', 1745).attr('y1', 820).attr('y2', 820)
    .attr('stroke', '#ff0000').attr('stroke-width', 9).attr('stroke-linecap', 'round');

const legendPos = [
    { y: 728, w: 244 },
    { y: 830, w: 211 },
    { y: 871, w: 163 }
];
legend.selectAll('text')
    .data(legendLabels)
    .enter().append('text')
    .attr('x', 1752)
    .attr('y', (d, i) => legendPos[i].y)
    .attr('font-size', 29)
    .attr('fill', '#595959')
    .attr('textLength', (d, i) => legendPos[i].w)
    .attr('lengthAdjust', 'spacingAndGlyphs')
    .text(d => d);

// outer frame and selection handles
svg.append('line')
    .attr('x1', 2085).attr('x2', 2085).attr('y1', 0).attr('y2', height)
    .attr('stroke', '#808080').attr('stroke-width', 2);
svg.append('line')
    .attr('x1', 0).attr('x2', width).attr('y1', 1034).attr('y2', 1034)
    .attr('stroke', '#808080').attr('stroke-width', 2);

const handles = [
    { x: 0, y: 52, w: 21, h: 8 },
    { x: 2064, y: 52, w: 22, h: 14 },
    { x: 0, y: 1023, w: 22, h: 10 },
    { x: 2064, y: 978, w: 22, h: 55 }
];
svg.selectAll('rect.handle')
    .data(handles)
    .enter().append('rect')
    .attr('class', 'handle')
    .attr('x', d => d.x).attr('y', d => d.y)
    .attr('width', d => d.w).attr('height', d => d.h)
    .attr('fill', '#ffc000');
</script>
</body>
</html>
